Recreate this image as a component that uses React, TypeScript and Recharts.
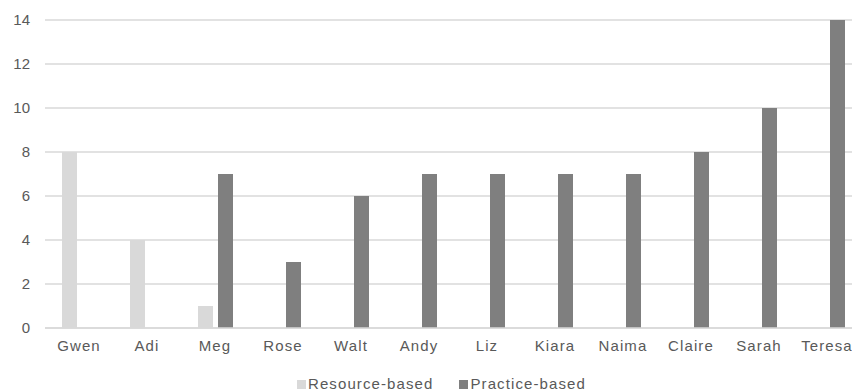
import { BarChart, Bar, XAxis, YAxis, CartesianGrid, Legend } from 'recharts';

const NAMES = ['Gwen', 'Adi', 'Meg', 'Rose', 'Walt', 'Andy', 'Liz', 'Kiara', 'Naima', 'Claire', 'Sarah', 'Teresa'];
const RESOURCE = [8, 4, 1, 0, 0, 0, 0, 0, 0, 0, 0, 0];
const PRACTICE = [0, 0, 7, 3, 6, 7, 7, 7, 7, 8, 10, 14];
const Y_TICKS = [0, 2, 4, 6, 8, 10, 12, 14];
const SERIES_ORDER = ['resource', 'practice'];

const COLORS = { resource: '#d9d9d9', practice: '#7f7f7f' };
const FONT = '"Liberation Sans", Arial, sans-serif';
const TEXT = '#595959';

const data = NAMES.map((name, i) => ({
  name,
  resource: RESOURCE[i],
  practice: PRACTICE[i],
}));

function LegendContent({ payload }: any) {
  const items = [...(payload || [])].sort(
    (a: any, b: any) => SERIES_ORDER.indexOf(a.dataKey) - SERIES_ORDER.indexOf(b.dataKey)
  );
  return (
    <div
      style={{
        height: 33,
        boxSizing: 'border-box',
        paddingTop: 19,
        paddingLeft: 297,
        display: 'flex',
        alignItems: 'flex-end',
        fontFamily: FONT,
        fontSize: 15,
        lineHeight: '15px',
        letterSpacing: 1.1,
        color: TEXT,
      }}
    >
      {items.map((entry: any, i: number) => (
        <div key={`leg-${i}`} style={{ display: 'flex', alignItems: 'flex-end', marginRight: 26 }}>
          <span style={{ width: 9, height: 9, background: entry.color, marginRight: 2, marginBottom: 2 }} />
          <span>{entry.value}</span>
        </div>
      ))}
    </div>
  );
}

export default function App() {
  return (
    <div style={{ position: 'absolute', left: 0, top: 0, width: 852, height: 391, overflow: 'hidden', background: '#fff' }}>
      <BarChart
        width={861}
        height={391}
        data={data}
        margin={{ top: 20, right: 0, left: 0, bottom: 0 }}
        barSize={15}
        barGap={5}
      >
        <CartesianGrid vertical={false} stroke="#d9d9d9" strokeWidth={1.3} />
        <XAxis
          dataKey="name"
          height={30}
          axisLine={{ stroke: '#d9d9d9', strokeWidth: 1.3 }}
          tickLine={false}
          tickSize={0}
          tickMargin={12}
          interval={0}
          tick={{ fill: TEXT, fontSize: 15, fontFamily: FONT, letterSpacing: 1.1 }}
        />
        <YAxis
          width={45}
          domain={[0, 14]}
          ticks={Y_TICKS}
          axisLine={false}
          tickLine={false}
          tickSize={0}
          tickMargin={15}
          tick={{ fill: TEXT, fontSize: 15, fontFamily: FONT }}
        />
        <Legend verticalAlign="bottom" content={<LegendContent />} />
        <Bar dataKey="resource" name="Resource-based" fill={COLORS.resource} isAnimationActive={false} />
        <Bar dataKey="practice" name="Practice-based" fill={COLORS.practice} isAnimationActive={false} />
      </BarChart>
    </div>
  );
}
